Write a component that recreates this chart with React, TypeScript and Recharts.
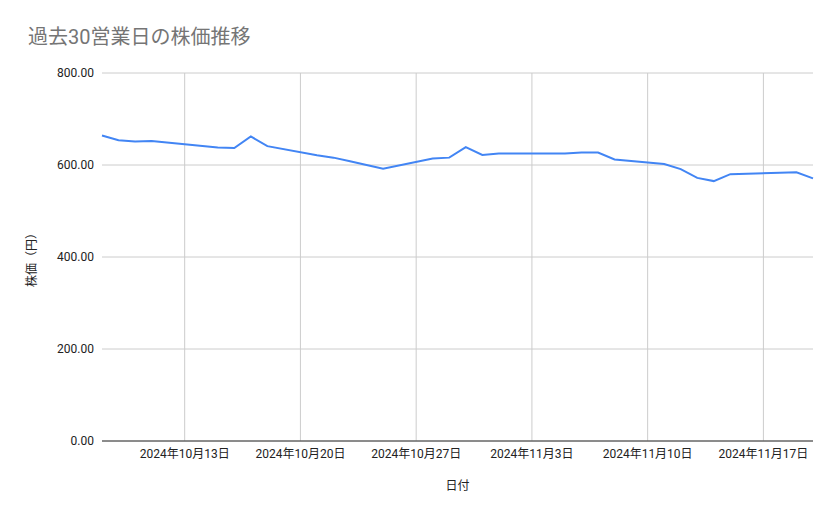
import React from 'react';
import { LineChart, Line, XAxis, YAxis, CartesianGrid, Label } from 'recharts';

const dates = [
  '2024-10-08', '2024-10-09', '2024-10-10', '2024-10-11', '2024-10-15',
  '2024-10-16', '2024-10-17', '2024-10-18', '2024-10-21', '2024-10-22',
  '2024-10-23', '2024-10-24', '2024-10-25', '2024-10-28', '2024-10-29',
  '2024-10-30', '2024-10-31', '2024-11-01', '2024-11-05', '2024-11-06',
  '2024-11-07', '2024-11-08', '2024-11-11', '2024-11-12', '2024-11-13',
  '2024-11-14', '2024-11-15', '2024-11-18', '2024-11-19', '2024-11-20',
];
const prices = [
  664, 654, 651, 652, 638,
  637, 662, 641, 621, 616,
  608, 600, 592, 614, 616,
  639, 622, 625, 625, 627,
  627, 612, 602, 591, 572,
  565, 580, 583, 584, 571,
];
const tickDates = ['2024-10-13', '2024-10-20', '2024-10-27', '2024-11-03', '2024-11-10', '2024-11-17'];
const tickLabels = ['2024年10月13日', '2024年10月20日', '2024年10月27日', '2024年11月3日', '2024年11月10日', '2024年11月17日'];
const yTicks = [0, 200, 400, 600, 800];
const domainDates = ['2024-10-08', '2024-11-20'];

const toTime = (s: string) => Date.parse(s + 'T00:00:00Z');

const data = dates.map((d, i) => ({ t: toTime(d), price: prices[i] }));
const xTicks = tickDates.map(toTime);
const xDomain = domainDates.map(toTime);
const tickLabelOf = (v: number) => tickLabels[xTicks.indexOf(v)] ?? '';

// vertical grid only at the date ticks, not on the plot edges
const verticalAt = ({ offset }: any) =>
  xTicks.map(t => offset.left + ((t - xDomain[0]) / (xDomain[1] - xDomain[0])) * offset.width);

const FONT = "Roboto, 'Noto Sans CJK JP', sans-serif";

export default function App() {
  return (
    <div style={{ position: 'absolute', left: 0, top: 0, width: 839, height: 519, background: '#fff', fontFamily: FONT }}>
      <div style={{ position: 'absolute', left: 28, top: 27, fontSize: 20, lineHeight: '20px', color: '#757575' }}>
        過去30営業日の株価推移
      </div>
      <LineChart
        width={839}
        height={519}
        data={data}
        margin={{ top: 73, right: 26, bottom: 48, left: 0 }}
      >
        <CartesianGrid stroke="#cccccc" verticalCoordinatesGenerator={verticalAt} />
        <XAxis
          dataKey="t"
          type="number"
          scale="time"
          domain={xDomain}
          ticks={xTicks}
          tickFormatter={tickLabelOf}
          height={30}
          tickLine={false}
          axisLine={{ stroke: '#333333' }}
          tick={{ fontSize: 12, fill: '#222222', fontFamily: FONT }}
        >
          <Label value="日付" position="center" dy={30} style={{ fontSize: 12, fill: '#222222', fontFamily: FONT }} />
        </XAxis>
        <YAxis
          type="number"
          domain={[0, 800]}
          ticks={yTicks}
          tickFormatter={(v: number) => v.toFixed(2)}
          width={102}
          tickLine={false}
          axisLine={false}
          tick={{ fontSize: 12, fill: '#222222', fontFamily: FONT }}
        >
          <Label value="株価（円）" position="center" angle={-90} dx={-19} style={{ fontSize: 12, fill: '#222222', fontFamily: FONT }} />
        </YAxis>
        <Line
          type="linear"
          dataKey="price"
          stroke="#4285f4"
          strokeWidth={2}
          dot={false}
          isAnimationActive={false}
        />
      </LineChart>
    </div>
  );
}
